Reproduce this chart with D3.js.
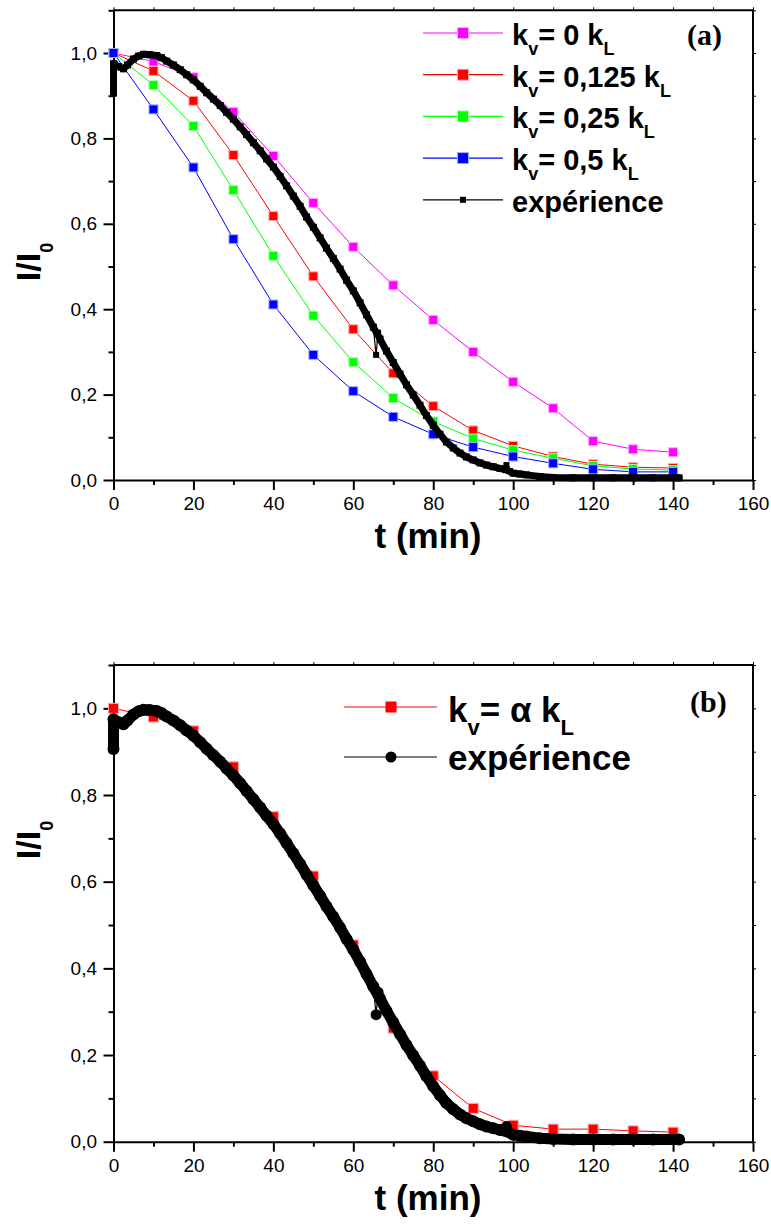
<!DOCTYPE html>
<html><head><meta charset="utf-8">
<script src="https://cdn.jsdelivr.net/npm/d3@7"></script>
<style>body{margin:0;background:#fff} svg{display:block}</style>
</head><body>
<svg id="c" width="771" height="1231"></svg>
<script>
// ---------- data ----------
const tSim = [0,10,20,30,40,50,60,70,80,90,100,110,120,130,140];
const kv0    = [1.0,0.980,0.943,0.862,0.759,0.649,0.546,0.456,0.375,0.300,0.230,0.168,0.091,0.072,0.065];
const kv0125 = [1.0,0.958,0.888,0.761,0.618,0.477,0.353,0.250,0.173,0.116,0.080,0.055,0.037,0.030,0.028];
const kv025  = [1.0,0.925,0.829,0.679,0.525,0.385,0.276,0.192,0.137,0.097,0.070,0.051,0.033,0.026,0.023];
const kv05   = [1.0,0.868,0.732,0.564,0.411,0.293,0.208,0.148,0.107,0.077,0.055,0.039,0.025,0.019,0.019];
const kvAlpha= [1.0,0.980,0.948,0.865,0.750,0.613,0.454,0.262,0.152,0.077,0.038,0.029,0.029,0.025,0.022];

const expT = [0,0,0.3,1.3,2.5,3.5,5,6.3,7.5,9,10.8,12,13.3,15,16.7,18.3,20,21.7,23.3,25,26.7,28.3,30,31.7,33.3,35,36.7,38.3,40,41.7,43.3,45,46.7,48.3,50,51.7,53.3,55,56.7,58.3,60,61.7,63.3,65,66.7,68.3,70,71.7,73.3,75,76.7,78.3,80,81.7,83.3,85,86.7,88.3,90,91.7,93.3,95,96.7,98.3,100,101.7,103.3,106.7,110,115,120,125,130,135,141.5];
const expV = [0.906,0.975,0.972,0.968,0.963,0.972,0.986,0.993,0.997,0.996,0.994,0.989,0.981,0.972,0.961,0.949,0.937,0.922,0.907,0.892,0.877,0.861,0.845,0.827,0.809,0.790,0.771,0.752,0.733,0.711,0.689,0.665,0.641,0.616,0.592,0.567,0.543,0.519,0.494,0.468,0.443,0.415,0.387,0.358,0.330,0.302,0.275,0.248,0.223,0.199,0.175,0.151,0.128,0.107,0.089,0.075,0.063,0.054,0.047,0.040,0.035,0.031,0.027,0.024,0.016,0.014,0.012,0.008,0.006,0.005,0.005,0.005,0.005,0.005,0.005];
const spikeT = [65,65.7,66.2];
const spikeV = [0.358,0.293,0.345];
const bumpT = [97.5,98.3,99.2];
const bumpV = [0.026,0.035,0.021];

const xTicks = [0,20,40,60,80,100,120,140,160];
const xMinor = [10,30,50,70,90,110,130,150];
const yTicks = [0,0.2,0.4,0.6,0.8,1.0];
const yMinor = [0.1,0.3,0.5,0.7,0.9,1.1];

const legendA = ["0","0,125","0,25","0,5"];
const colorsA = ["#ff00ff","#ff0000","#00ff00","#0000ff"];
const haloA   = ["#ffaaff","#ffaaaa","#aaffaa","#aaaaff"];
const seriesA = [kv0,kv0125,kv025,kv05];

// ---------- drawing ----------
const svg = d3.select("#c");
const SANS = "'Liberation Sans', Arial, sans-serif";
const SERIF = "'Liberation Serif', 'Times New Roman', serif";
const fmt = v => d3.format(".1f")(v).replace(".", ",");

function frame(yTop, yBot) {
  const x = d3.scaleLinear().domain([0,160]).range([113.5,753]);
  const y = d3.scaleLinear().domain([0,1.1]).range([yBot,yTop]);
  const g = svg.append("g");
  g.append("line").attr("x1",x(0)).attr("x2",x(160)).attr("y1",y(1.1)).attr("y2",y(1.1)).attr("stroke","#000").attr("stroke-width",2);
  g.append("line").attr("x1",x(160)).attr("x2",x(160)).attr("y1",y(1.1)).attr("y2",y(0)).attr("stroke","#000").attr("stroke-width",2);
  const ax1 = g.append("g").attr("transform",`translate(0,${y(1.1)})`).call(d3.axisTop(x).tickValues(xTicks.concat(xMinor)).tickSize(3).tickSizeOuter(0).tickFormat(""));
  const ax2 = g.append("g").attr("transform",`translate(${x(160)},0)`).call(d3.axisRight(y).tickValues(yTicks.concat(yMinor)).tickSize(3).tickSizeOuter(0).tickFormat(""));
  [ax1,ax2].forEach(a=>{a.select(".domain").remove(); a.selectAll("line").attr("stroke","#000").attr("stroke-width",1);});
  const xb = g.append("g").attr("transform",`translate(0,${y(0)})`)
    .call(d3.axisBottom(x).tickValues(xTicks).tickSize(10).tickPadding(7).tickSizeOuter(0).tickFormat(d3.format("d")));
  const xm = g.append("g").attr("transform",`translate(0,${y(0)})`)
    .call(d3.axisBottom(x).tickValues(xMinor).tickSize(5).tickSizeOuter(0).tickFormat(""));
  xm.select(".domain").remove();
  const yl = g.append("g").attr("transform",`translate(${x(0)},0)`)
    .call(d3.axisLeft(y).tickValues(yTicks).tickSize(10).tickPadding(6.5).tickSizeOuter(0).tickFormat(fmt));
  const ym = g.append("g").attr("transform",`translate(${x(0)},0)`)
    .call(d3.axisLeft(y).tickValues(yMinor).tickSize(5).tickSizeOuter(0).tickFormat(""));
  ym.select(".domain").remove();
  [xb,xm,yl,ym].forEach(a=>{
    a.selectAll(".domain").attr("stroke","#000").attr("stroke-width",2);
    a.selectAll("line").attr("stroke","#000").attr("stroke-width",2);
    a.selectAll("text").attr("font-family",SANS).attr("font-size","19px").attr("fill","#000");
  });
  return {x,y,g};
}

function yTitle(cx, cy) {
  const t = svg.append("text").attr("transform",`translate(${cx},${cy}) rotate(-90)`)
    .attr("text-anchor","middle").attr("font-family",SANS).attr("font-weight","bold").attr("fill","#000");
  t.append("tspan").attr("font-size","34px").text("I/I");
  t.append("tspan").attr("font-size","18px").attr("dy",13).text("0");
}
function xTitle(cx, by) {
  svg.append("text").attr("x",cx).attr("y",by).attr("text-anchor","middle")
    .attr("font-family",SANS).attr("font-weight","bold").attr("font-size","35px").attr("fill","#000").text("t (min)");
}
function kLabel(x, base, mid, big, small, drop) {
  const t = svg.append("text").attr("x",x).attr("y",base).attr("font-family",SANS).attr("font-weight","bold").attr("fill","#000");
  t.append("tspan").attr("font-size",big+"px").text("k");
  t.append("tspan").attr("font-size",small+"px").attr("dy",drop).text("v");
  t.append("tspan").attr("font-size",big+"px").attr("dy",-drop).text(mid);
  t.append("tspan").attr("font-size",small+"px").attr("dy",drop).text("L");
}

// ===== Panel (a) =====
{
  const {x,y,g} = frame(10.3, 480);
  const line = d3.line().x(d=>x(d[0])).y(d=>y(d[1]));
  seriesA.forEach((s,k)=>{
    const pts = tSim.map((t,i)=>[t,s[i]]);
    g.append("path").attr("d",line(pts)).attr("fill","none").attr("stroke",colorsA[k]).attr("stroke-width",1);
    g.selectAll(null).data(pts).enter().append("rect")
      .attr("x",d=>x(d[0])-4.5).attr("y",d=>y(d[1])-4.5).attr("width",9).attr("height",9)
      .attr("fill",colorsA[k]).attr("stroke",haloA[k]).attr("stroke-width",1);
  });
  const ex = expT.map((t,i)=>[t,expV[i]]);
  g.append("path").attr("d",line(ex)).attr("fill","none").attr("stroke","#000").attr("stroke-width",7)
    .attr("stroke-linejoin","round").attr("stroke-linecap","round");
  g.selectAll(null).data(ex).enter().append("rect")
    .attr("x",d=>x(d[0])-3.5).attr("y",d=>y(d[1])-3.5).attr("width",7).attr("height",7).attr("fill","#000");
  [[spikeT,spikeV],[bumpT,bumpV]].forEach(([tt,vv])=>{
    const p = tt.map((t,i)=>[t,vv[i]]);
    g.append("path").attr("d",line(p)).attr("fill","none").attr("stroke","#000").attr("stroke-width",1.2);
    g.selectAll(null).data(p).enter().append("rect")
      .attr("x",d=>x(d[0])-3).attr("y",d=>y(d[1])-3).attr("width",6).attr("height",6).attr("fill","#000");
  });
  const rows = [33,74.7,116.4,158.1,199.8];
  legendA.forEach((s,k)=>{
    svg.append("line").attr("x1",423).attr("x2",503).attr("y1",rows[k]).attr("y2",rows[k]).attr("stroke",colorsA[k]).attr("stroke-width",1.2);
    svg.append("rect").attr("x",463-5.5).attr("y",rows[k]-5.5).attr("width",11).attr("height",11).attr("fill",colorsA[k]).attr("stroke",haloA[k]).attr("stroke-width",1);
    kLabel(512, rows[k]+12, "= "+s+" k", 29, 18, 10);
  });
  svg.append("line").attr("x1",423).attr("x2",503).attr("y1",rows[4]).attr("y2",rows[4]).attr("stroke","#000").attr("stroke-width",1.2);
  svg.append("rect").attr("x",463-3).attr("y",rows[4]-3).attr("width",6).attr("height",6).attr("fill","#000");
  svg.append("text").attr("x",512).attr("y",rows[4]+12).attr("font-family",SANS).attr("font-weight","bold")
    .attr("font-size","29px").attr("fill","#000").text("expérience");
  svg.append("text").attr("x",687).attr("y",45).attr("font-family",SERIF).attr("font-weight","bold")
    .attr("font-size","30px").attr("fill","#000").text("(a)");
  yTitle(40, 262);
  xTitle(428, 548);
}

// ===== Panel (b) =====
{
  const {x,y,g} = frame(665, 1141.7);
  const line = d3.line().x(d=>x(d[0])).y(d=>y(d[1]));
  const pts = tSim.map((t,i)=>[t,kvAlpha[i]]);
  g.append("path").attr("d",line(pts)).attr("fill","none").attr("stroke","#ff0000").attr("stroke-width",1);
  g.selectAll(null).data(pts).enter().append("rect")
    .attr("x",d=>x(d[0])-5).attr("y",d=>y(d[1])-5).attr("width",10).attr("height",10)
    .attr("fill","#ff0000").attr("stroke","#ffaaaa").attr("stroke-width",1);
  const ex = expT.map((t,i)=>[t,expV[i]]);
  g.append("path").attr("d",line(ex)).attr("fill","none").attr("stroke","#000").attr("stroke-width",11)
    .attr("stroke-linejoin","round").attr("stroke-linecap","round");
  g.selectAll(null).data(ex).enter().append("circle")
    .attr("cx",d=>x(d[0])).attr("cy",d=>y(d[1])).attr("r",6).attr("fill","#000");
  [[spikeT,spikeV],[bumpT,bumpV]].forEach(([tt,vv])=>{
    const p = tt.map((t,i)=>[t,vv[i]]);
    g.append("path").attr("d",line(p)).attr("fill","none").attr("stroke","#000").attr("stroke-width",1.2);
    g.selectAll(null).data(p).enter().append("circle")
      .attr("cx",d=>x(d[0])).attr("cy",d=>y(d[1])).attr("r",5.5).attr("fill","#000");
  });
  svg.append("line").attr("x1",344).attr("x2",437).attr("y1",707).attr("y2",707).attr("stroke","#ff0000").attr("stroke-width",1.2);
  svg.append("rect").attr("x",391-5.5).attr("y",707-5.5).attr("width",11).attr("height",11).attr("fill","#ff0000");
  kLabel(448, 722, "= α k", 35, 22, 13);
  svg.append("line").attr("x1",344).attr("x2",437).attr("y1",757).attr("y2",757).attr("stroke","#555").attr("stroke-width",1.5);
  svg.append("circle").attr("cx",391).attr("cy",757).attr("r",5.5).attr("fill","#000");
  svg.append("text").attr("x",448).attr("y",770).attr("font-family",SANS).attr("font-weight","bold")
    .attr("font-size","35px").attr("fill","#000").text("expérience");
  svg.append("text").attr("x",690).attr("y",712).attr("font-family",SERIF).attr("font-weight","bold")
    .attr("font-size","30px").attr("fill","#000").text("(b)");
  yTitle(40, 840);
  xTitle(428, 1210);
}
</script>
</body></html>
